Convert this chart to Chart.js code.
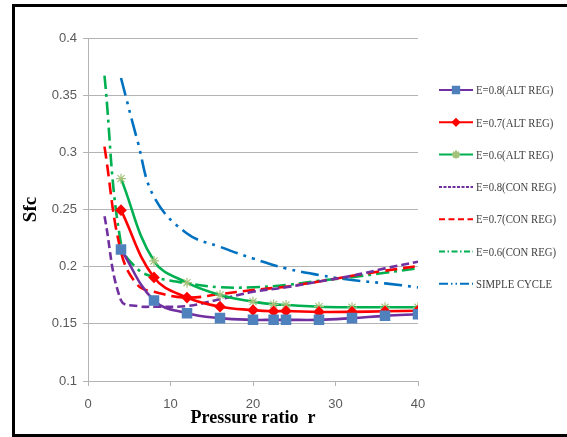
<!DOCTYPE html>
<html>
<head>
<meta charset="utf-8">
<script src="https://cdn.jsdelivr.net/npm/chart.js@4.4.1/dist/chart.umd.min.js"></script>
<style>
html, body { margin: 0; padding: 0; background: #fff; }
#frame { position: absolute; left: 12px; top: 4px; width: 620px; height: 427px; border: 3px solid #000; border-right: none; }
#wrap { position: absolute; left: 0; top: 0; width: 567px; height: 437px; }
</style>
</head>
<body>
<div id="frame"></div>
<div id="wrap"><canvas id="sfc-chart" width="567" height="437"></canvas></div>
<script>
// Pressure ratios
const altX = [4, 8, 12, 16, 20, 22.5, 24, 28, 32, 36, 40];
const conX = [2, 4, 6, 8, 12, 16, 20, 24, 28, 32, 36, 40];
const simpleX = [4, 6, 8, 12, 16, 20, 24, 28, 32, 36, 40];

// Sfc values
const alt08 = [0.215, 0.1705, 0.1593, 0.155, 0.1535, 0.1535, 0.1535, 0.1535, 0.155, 0.157, 0.1584];
const alt07 = [0.2494, 0.1906, 0.173, 0.165, 0.162, 0.161, 0.1612, 0.1604, 0.1605, 0.161, 0.1615];
const alt06 = [0.277, 0.205, 0.186, 0.1752, 0.1694, 0.167, 0.1665, 0.165, 0.1645, 0.1645, 0.1645];
const con08 = [0.244, 0.1705, 0.1655, 0.165, 0.1656, 0.1715, 0.178, 0.182, 0.187, 0.192, 0.1985, 0.2043];
const con07 = [0.305, 0.213, 0.184, 0.178, 0.173, 0.176, 0.1796, 0.1825, 0.187, 0.192, 0.1965, 0.2005];
const con06 = [0.367, 0.22, 0.198, 0.191, 0.1855, 0.182, 0.182, 0.184, 0.1877, 0.1907, 0.1947, 0.1985];
const simple = [0.365, 0.31, 0.261, 0.229, 0.2174, 0.2072, 0.1985, 0.1927, 0.1883, 0.1854, 0.1819];

const seriesLabels = ['E=0.8(ALT REG)', 'E=0.7(ALT REG)', 'E=0.6(ALT REG)',
    'E=0.8(CON REG)', 'E=0.7(CON REG)', 'E=0.6(CON REG)', 'SIMPLE CYCLE'];
const yTicks = [0.1, 0.15, 0.2, 0.25, 0.3, 0.35, 0.4];
const xTicks = [0, 10, 20, 30, 40];

function pts(xs, ys) {
    return xs.map((x, i) => ({ x: x, y: ys[i] }));
}

function series(label, xs, ys, color, extra) {
    return Object.assign({
        label: label,
        data: pts(xs, ys),
        borderColor: color,
        backgroundColor: color,
        borderWidth: 2.6,
        showLine: true,
        tension: 0.4,
        pointRadius: 0,
        pointHoverRadius: 0,
        fill: false
    }, extra);
}

// Legend drawn to the right of the plot, like the Excel one
const sideLegend = {
    id: 'sideLegend',
    afterDraw(chart) {
        const ctx = chart.ctx;
        const x0 = chart.chartArea.right + 21;
        chart.data.datasets.forEach((ds, i) => {
            const y = 90 + i * 32.3;
            ctx.save();
            ctx.strokeStyle = ds.borderColor;
            ctx.lineWidth = 2;
            ctx.setLineDash(ds.legendDash || []);
            ctx.beginPath();
            ctx.moveTo(x0, y);
            ctx.lineTo(x0 + 34, y);
            ctx.stroke();
            ctx.setLineDash([]);
            if (ds.pointRadius > 0) {
                ctx.fillStyle = ds.pointBackgroundColor;
                ctx.strokeStyle = ds.pointBorderColor;
                Chart.helpers.drawPoint(ctx, {
                    pointStyle: ds.pointStyle,
                    radius: ds.pointRadius * 0.8,
                    borderWidth: 1,
                    rotation: 0
                }, x0 + 17, y);
            }
            ctx.fillStyle = '#404040';
            ctx.font = '12.5px "Liberation Serif", "DejaVu Serif", serif';
            ctx.textBaseline = 'middle';
            ctx.translate(x0 + 37, y + 1);
            ctx.scale(0.86, 1);
            ctx.fillText(ds.label, 0, 0);
            ctx.restore();
        });
    }
};

const ctx = document.getElementById('sfc-chart').getContext('2d');
const sfcChart = new Chart(ctx, {
    type: 'scatter',
    data: {
        datasets: [
            series(seriesLabels[0], altX, alt08, '#7030a0', {
                pointRadius: 5.6, pointStyle: 'rect',
                pointBackgroundColor: '#4f81bd', pointBorderColor: '#4f81bd'
            }),
            series(seriesLabels[1], altX, alt07, '#ff0000', {
                pointRadius: 4, pointStyle: 'rectRot',
                pointBackgroundColor: '#ff0000', pointBorderColor: '#ff0000'
            }),
            series(seriesLabels[2], altX, alt06, '#00b050', {
                pointRadius: 5, pointStyle: 'star', pointBorderWidth: 1.2,
                pointBackgroundColor: '#9bbb59', pointBorderColor: '#a5c27a'
            }),
            series(seriesLabels[3], conX, con08, '#7030a0', {
                borderDash: [8, 4], legendDash: [3, 1.5]
            }),
            series(seriesLabels[4], conX, con07, '#ff0000', {
                borderDash: [12, 6], legendDash: [6, 3.5]
            }),
            series(seriesLabels[5], conX, con06, '#00b050', {
                borderDash: [13, 5, 3, 5], legendDash: [6, 2.5, 1.5, 2.5]
            }),
            series(seriesLabels[6], simpleX, simple, '#0070c0', {
                borderDash: [18, 6, 3, 6, 3, 6], legendDash: [9, 3, 1.5, 3, 1.5, 3]
            })
        ]
    },
    options: {
        responsive: false,
        animation: false,
        layout: {
            padding: { left: 14, right: 149, top: 38, bottom: 5 }
        },
        scales: {
            x: {
                type: 'linear',
                min: 0,
                max: 40,
                afterBuildTicks: (scale) => {
                    scale.ticks = xTicks.map(v => ({ value: v }));
                },
                afterFit: (scale) => { scale.height = 51; },
                ticks: {
                    color: '#595959',
                    font: { family: '"Liberation Sans", sans-serif', size: 13 },
                    padding: 11,
                    maxRotation: 0
                },
                grid: {
                    drawOnChartArea: false,
                    drawTicks: true,
                    tickLength: 5,
                    color: '#b3b3b3'
                },
                border: { color: '#b3b3b3', width: 1 },
                title: {
                    display: true,
                    text: 'Pressure ratio  r',
                    color: '#000',
                    font: { family: '"Liberation Serif", serif', size: 18, weight: 'bold' },
                    padding: { top: 0, bottom: 3 }
                }
            },
            y: {
                min: 0.1,
                max: 0.4,
                afterBuildTicks: (scale) => {
                    scale.ticks = yTicks.map(v => ({ value: v }));
                },
                afterFit: (scale) => { scale.width = 74; },
                ticks: {
                    color: '#595959',
                    font: { family: '"Liberation Sans", sans-serif', size: 13 },
                    padding: 6,
                    callback: (v) => String(Math.round(v * 100) / 100)
                },
                grid: {
                    color: '#b3b3b3',
                    tickLength: 5
                },
                border: { color: '#b3b3b3', width: 1 },
                title: {
                    display: true,
                    text: 'Sfc',
                    color: '#000',
                    font: { family: '"Liberation Serif", serif', size: 19, weight: 'bold' },
                    padding: { top: 6, bottom: 4 }
                }
            }
        },
        plugins: {
            legend: { display: false },
            tooltip: { enabled: false }
        }
    },
    plugins: [sideLegend]
});
</script>
</body>
</html>
